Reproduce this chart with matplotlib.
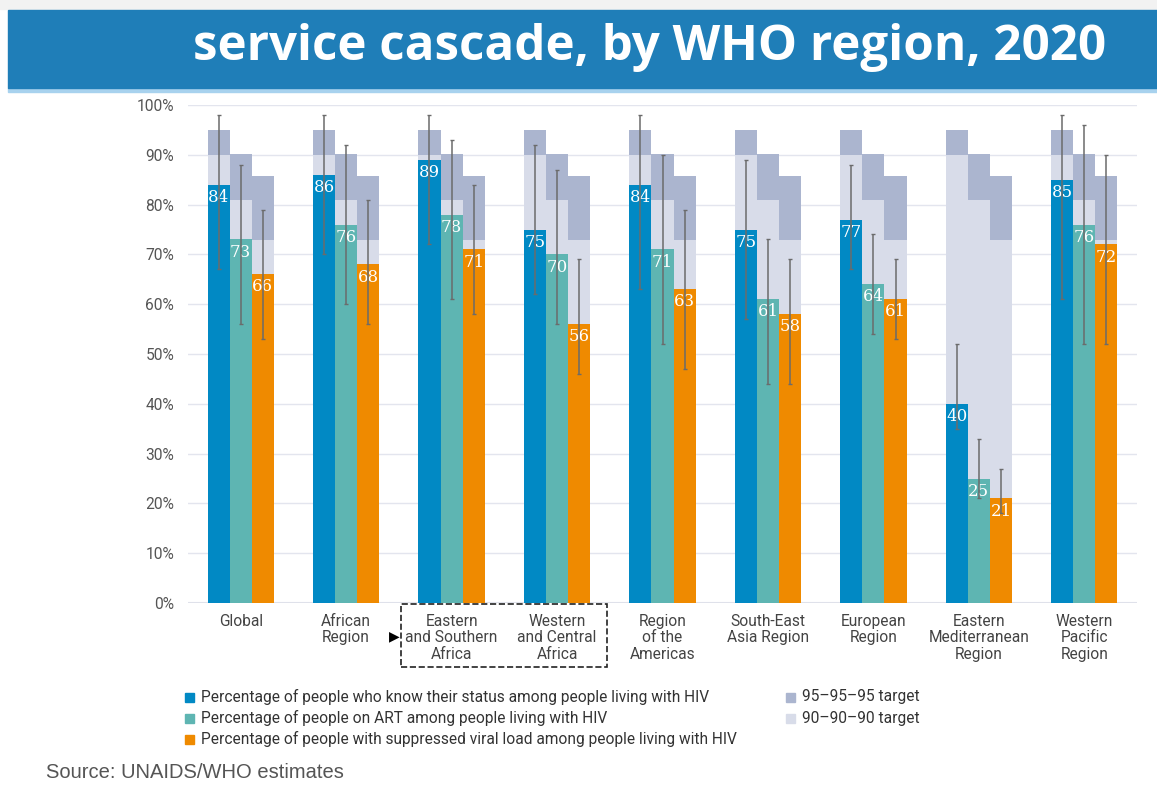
import numpy as np
import matplotlib.pyplot as plt
from matplotlib.patches import Rectangle

# DATA
regions = ["Global", "African\nRegion", "Eastern\nand Southern\nAfrica", "Western\nand Central\nAfrica",
           "Region\nof the\nAmericas", "South-East\nAsia Region", "European\nRegion",
           "Eastern\nMediterranean\nRegion", "Western\nPacific\nRegion"]
know_status = [84, 86, 89, 75, 84, 75, 77, 40, 85]
know_low = [67, 70, 72, 62, 63, 57, 67, 35, 61]
know_high = [98, 98, 98, 92, 98, 89, 88, 52, 98]
on_art = [73, 76, 78, 70, 71, 61, 64, 25, 76]
art_low = [56, 60, 61, 56, 52, 44, 54, 21, 52]
art_high = [88, 92, 93, 87, 90, 73, 74, 33, 96]
suppressed = [66, 68, 71, 56, 63, 58, 61, 21, 72]
supp_low = [53, 56, 58, 46, 47, 44, 53, 18, 52]
supp_high = [79, 81, 84, 69, 79, 69, 69, 27, 90]
target_95 = [95, 90.25, 85.7]
target_90 = [90, 81, 72.9]
yticks = [0, 10, 20, 30, 40, 50, 60, 70, 80, 90, 100]

legend_labels = ["Percentage of people who know their status among people living with HIV",
                 "Percentage of people on ART among people living with HIV",
                 "Percentage of people with suppressed viral load among people living with HIV"]
target_labels = ["95\u201395\u201395 target", "90\u201390\u201390 target"]

# COLOURS
c_blue = '#0189c4'
c_teal = '#5eb5b2'
c_orange = '#ef8a00'
c_t95 = '#abb5cf'
c_t90 = '#d8dce9'
W, H = 1157, 785
fs = 11.2

fig = plt.figure(figsize=(W / 100, H / 100), dpi=100)

# title banner
fig.patches.append(Rectangle((0, 1 - 9 / H), 1, 9 / H, transform=fig.transFigure, color='#f2f2f2', zorder=0))
fig.patches.append(Rectangle((8 / W, 1 - 92 / H), 1, 4 / H, transform=fig.transFigure, color='#a8d2ee', zorder=0))
fig.patches.append(Rectangle((8 / W, 1 - 88 / H), 1, 78 / H, transform=fig.transFigure, color='#1f7eb8', zorder=1))
fig.text(650 / W, 1 - 47 / H, "service cascade, by WHO region, 2020", color='white', fontsize=35.5,
         fontweight='bold', family='Open Sans', ha='center', va='center', zorder=2)

ax = fig.add_axes([188 / W, 1 - 603 / H, (1137 - 188) / W, (603 - 105) / H])

x = np.arange(len(regions))
w = 0.21
series = [(know_status, know_low, know_high, c_blue),
          (on_art, art_low, art_high, c_teal),
          (suppressed, supp_low, supp_high, c_orange)]

for j, (vals, lo, hi, col) in enumerate(series):
    xs = x + (j - 1) * w
    ax.bar(xs, [target_95[j]] * len(x), width=w, color=c_t95, zorder=1)
    ax.bar(xs, [target_90[j]] * len(x), width=w, color=c_t90, zorder=1.5)
    ax.bar(xs, vals, width=w, color=col, zorder=2)
    v = np.array(vals)
    yerr = [v - np.array(lo), np.array(hi) - v]
    ax.errorbar(xs, v, yerr=yerr, fmt='none', ecolor='#6b6b6b', elinewidth=1.1, capsize=1.5,
                capthick=1, zorder=4)
    for xi, vi in zip(xs, vals):
        ax.annotate(str(vi), (xi, vi), xytext=(0, -3), textcoords='offset points', ha='center', va='top',
                    color='white', fontsize=12, family='DejaVu Serif', zorder=3)

ax.set_xlim(-0.5, len(regions) - 0.5)
ax.set_ylim(0, 100)
ax.set_yticks(yticks)
ax.set_yticklabels([f"{t}%" for t in yticks], family='Roboto', fontsize=fs, color='#555555')
ax.yaxis.grid(True, color='#e3e5ee', lw=1)
ax.set_axisbelow(True)
for s in ax.spines.values():
    s.set_visible(False)
ax.tick_params(axis='y', length=0, pad=10)
ax.tick_params(axis='x', length=0, pad=8)
ax.set_xticks(x)
ax.set_xticklabels(regions, family='Roboto', fontsize=fs, color='#444444', linespacing=1.1)
ax.axhline(0, color='#dfe1ea', lw=1.5, zorder=0)

# dashed box around the sub-regions
fig.patches.append(Rectangle((401 / W, 1 - 667 / H), 206 / W, 63 / H, transform=fig.transFigure,
                             fill=False, ls='--', lw=1.2, ec='#222222'))
fig.text(394 / W, 1 - 636 / H, "\u25b6", fontsize=10, ha='center', va='center', color='black',
         family='DejaVu Sans')

# legend
for i, (lab, col) in enumerate(zip(legend_labels, [c_blue, c_teal, c_orange])):
    yc = 697 + 21 * i
    fig.patches.append(Rectangle((185 / W, 1 - (yc + 4.5) / H), 9 / W, 9 / H, transform=fig.transFigure,
                                 color=col))
    fig.text(201 / W, 1 - yc / H, lab, family='Roboto', fontsize=fs, color='#333333', va='center')
for i, (lab, col) in enumerate(zip(target_labels, [c_t95, c_t90])):
    yc = 697 + 21 * i
    fig.patches.append(Rectangle((786 / W, 1 - (yc + 4.5) / H), 9 / W, 9 / H, transform=fig.transFigure,
                                 color=col))
    fig.text(802 / W, 1 - yc / H, lab, family='Roboto', fontsize=fs, color='#333333', va='center')

fig.text(46 / W, 1 - 773 / H, "Source: UNAIDS/WHO estimates", family='Liberation Sans', fontsize=14.5,
         color='#555555', va='center')

fig.savefig('out.png', dpi=100)
